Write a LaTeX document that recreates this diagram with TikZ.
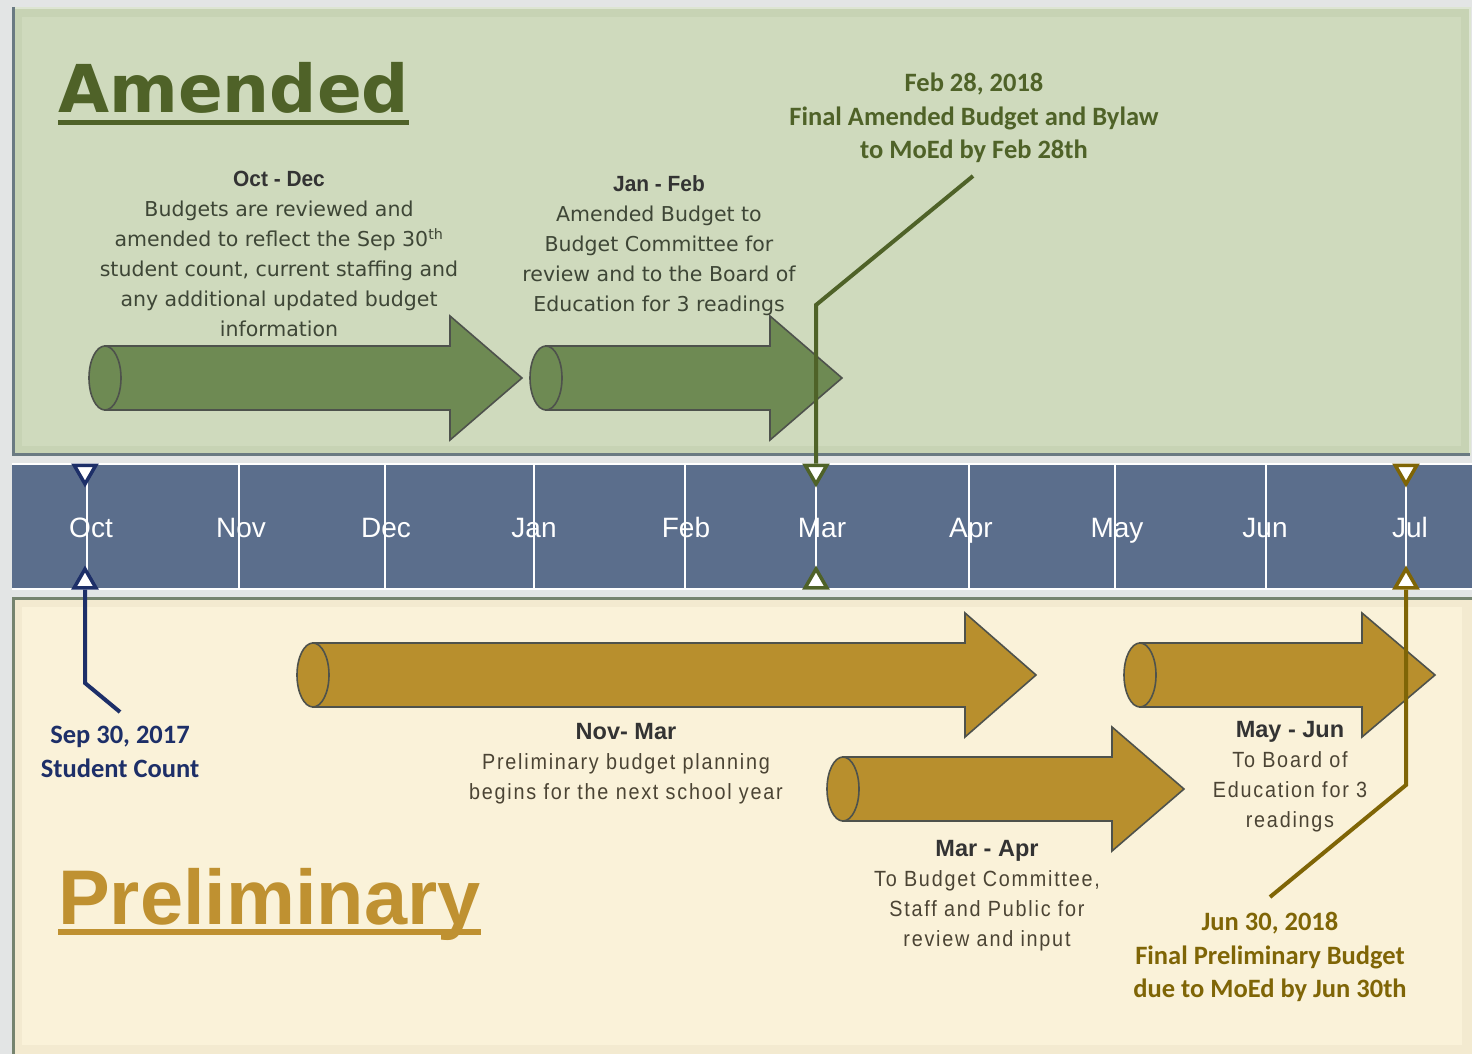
\documentclass[tikz,border=0pt]{standalone}
\usepackage{fontspec}
\usetikzlibrary{shapes.geometric}
\setmainfont{Liberation Sans}
\newfontfamily\tahfont{DejaVu Sans}
\newfontfamily\narfont[FakeStretch=0.9,LetterSpace=8]{Liberation Sans}
\newfontfamily\hdfont[FakeStretch=0.95]{Liberation Sans}
\newfontfamily\hdbfont{Liberation Sans}
\newfontfamily\calfont{Carlito}
\definecolor{bgc}{HTML}{E3E5E5}
\definecolor{pgreen}{HTML}{CFDABD}
\definecolor{pgreenbev}{HTML}{C7D3B4}
\definecolor{pgreenedge}{HTML}{6A7A82}
\definecolor{pgreenlight}{HTML}{DDE5D2}
\definecolor{pcream}{HTML}{FAF2D9}
\definecolor{pcreambev}{HTML}{F3EAD0}
\definecolor{pcreamedge}{HTML}{76846F}
\definecolor{bandc}{HTML}{5B6E8C}
\definecolor{agreen}{HTML}{6E8A53}
\definecolor{agold}{HTML}{B88F2D}
\definecolor{aedge}{HTML}{4E524C}
\definecolor{tgreen}{HTML}{4F6228}
\definecolor{tgold}{HTML}{BF9131}
\definecolor{navyc}{HTML}{1D2F68}
\definecolor{brownc}{HTML}{7F6506}
\definecolor{toptext}{HTML}{3E4636}
\definecolor{bottext}{HTML}{4B4434}
\definecolor{headtext}{HTML}{333333}
\tikzset{
 topbody/.style={align=center, inner sep=0pt, anchor=north, text=toptext, font=\tahfont\fontsize{20.5}{30}\selectfont},
 botbody/.style={align=center, inner sep=0pt, anchor=north, text=bottext, font=\narfont\fontsize{22}{30}\selectfont},
 datelab/.style={align=center, inner sep=0pt, anchor=north, font=\calfont\bfseries\fontsize{26.5}{33.5}\selectfont},
 month/.style={anchor=base, inner sep=0pt, text=white, font=\fontsize{28}{28}\selectfont},
 mkdown/.style={regular polygon, regular polygon sides=3, shape border rotate=180, minimum size=25pt, inner sep=0pt, fill=white, line width=3.5pt},
 mkup/.style={regular polygon, regular polygon sides=3, minimum size=25pt, inner sep=0pt, fill=white, line width=3.5pt},
 conn/.style={line width=4pt, line join=miter},
 title/.style={anchor=base west, inner sep=0pt},
}
\newcommand{\hdA}{\hdfont\bfseries\fontsize{22}{30}\selectfont\color{headtext}}
\newcommand{\hdB}{\hdbfont\bfseries\fontsize{23.5}{30}\selectfont\color{headtext}}
\newcommand{\cylarrow}[5]{%
 \draw[line width=1.6pt, draw=aedge, fill=#5, line join=miter] (#1,#4-32) -- (#2,#4-32) -- (#2,#4-62) -- (#3,#4) -- (#2,#4+62) -- (#2,#4+32) -- (#1,#4+32) -- cycle;
 \draw[line width=1.6pt, draw=aedge, fill=#5] (#1,#4) ellipse [x radius=16pt, y radius=32pt];
}
\begin{document}
\begin{tikzpicture}[x=1pt,y=-1pt]
\useasboundingbox (0,0) rectangle (1472,1054);
\fill[bgc] (0,0) rectangle (1472,1054);
% top panel
\fill[pgreenbev] (12,7) rectangle (1470,455);
\fill[pgreen] (22,17) rectangle (1461,446);
\draw[pgreenlight, line width=2pt] (12,8) -- (1470,8) -- (1470,455);
\draw[pgreenedge, line width=3pt] (13.5,7) -- (13.5,454) -- (1470,454);
% bottom panel
\fill[pcreambev] (12,597) rectangle (1472,1054);
\fill[pcream] (22,607) rectangle (1462,1045);
\draw[pcreamedge, line width=3pt] (13.5,1054) -- (13.5,598.5) -- (1472,598.5);
% band
\fill[bandc] (12,463) rectangle (1472,590);
\draw[white, line width=2pt] (12,464) -- (1472,464);
\draw[white, line width=2pt] (12,589) -- (1472,589);
\foreach \x in {87,239,385,534,685,816,969,1115,1266,1406}
  \draw[white, line width=1.8pt] (\x,464) -- (\x,589);
\foreach \x/\m/\n in {91/Oct/mo1,241/Nov/mo2,386/Dec/mo3,534/Jan/mo4,686/Feb/mo5,822/Mar/mo6,971/Apr/mo7,1117/May/mo8,1265/Jun/mo9,1410/Jul/mo10}
  \node[month] (\n) at (\x,537) {\m};
% titles
\node[title, text=tgreen, font=\tahfont\bfseries\fontsize{66}{66}\selectfont] (amtitle) at (58,113) {Amended};
\fill[tgreen] ([yshift=-7pt]amtitle.base west) rectangle ([yshift=-12pt]amtitle.base east);
\node[title, text=tgold, font=\bfseries\fontsize{77.5}{77.5}\selectfont] (prtitle) at (58,924) {Preliminary};
\fill[tgold] ([yshift=-5pt]prtitle.base west) rectangle ([yshift=-11pt]prtitle.base east);
% arrows
\cylarrow{105}{450}{522}{378}{agreen}
\cylarrow{546}{770}{842}{378}{agreen}
\cylarrow{313}{965}{1036}{675}{agold}
\cylarrow{1140}{1362}{1435}{675}{agold}
\cylarrow{843}{1112}{1184}{789}{agold}
% texts
\node[topbody] (octdec) at (279,171) {{\hdA Oct - Dec}\\Budgets are reviewed and\\amended to reflect the Sep 30\textsuperscript{th}\\student count, current staffing and\\any additional updated budget\\information};
\node[topbody] (janfeb) at (659,175) {{\hdA Jan - Feb}\\Amended Budget to\\Budget Committee for\\review and to the Board of\\Education for 3 readings};
\node[datelab, text=tgreen] (feb28) at (974,73) {Feb 28, 2018\\Final Amended Budget and Bylaw\\to MoEd by Feb 28th};
\node[datelab, text=navyc] (sep30) at (120,726) {Sep 30, 2017\\Student Count};
\node[botbody] (novmar) at (626,723) {{\hdB Nov- Mar}\\Preliminary budget planning\\begins for the next school year};
\node[botbody] (marapr) at (987,840) {{\hdB Mar - Apr}\\To Budget Committee,\\Staff and Public for\\review and input};
\node[botbody] (mayjun) at (1290,721) {{\hdB May - Jun}\\To Board of\\Education for 3\\readings};
\node[datelab, text=brownc] (jun30) at (1270,912) {Jun 30, 2018\\Final Preliminary Budget\\due to MoEd by Jun 30th};
% markers
\node[mkdown, draw=navyc] (octtop) at (85,471.5) {};
\node[mkup, draw=navyc] (octbot) at (85,581.5) {};
\node[mkdown, draw=tgreen] (martop) at (816,471.5) {};
\node[mkup, draw=tgreen] (marbot) at (816,581.5) {};
\node[mkdown, draw=brownc] (jultop) at (1406,471.5) {};
\node[mkup, draw=brownc] (julbot) at (1406,581.5) {};
% connectors
\coordinate (octbend) at (85,683);
\coordinate (octend) at (120,712);
\draw[conn, navyc] (octbot.south) -- (octbend) -- (octend);
\coordinate (febend) at (973,176);
\coordinate (febbend) at (816,305);
\draw[conn, tgreen] (febend) -- (febbend) -- (martop.north);
\coordinate (julbend) at (1406,785);
\coordinate (julend) at (1270,897);
\draw[conn, brownc] (julbot.south) -- (julbend) -- (julend);
\end{tikzpicture}
\end{document}
